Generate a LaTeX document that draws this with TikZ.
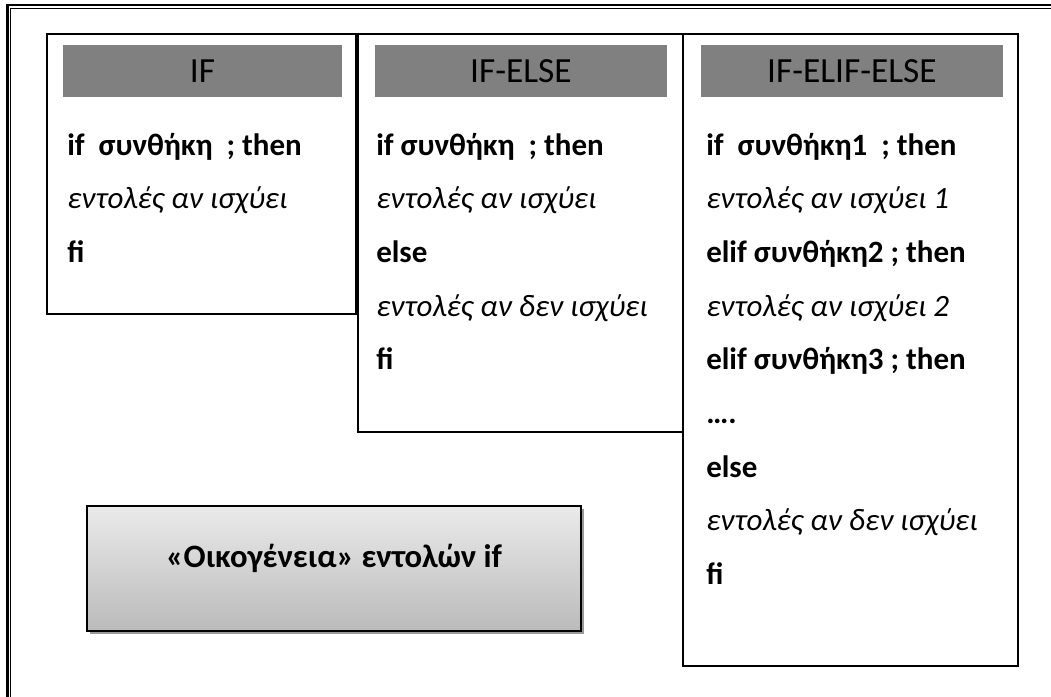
\documentclass[tikz,border=0pt]{standalone}
\usepackage{fontspec}
\setmainfont{Carlito}
\begin{document}
\begin{tikzpicture}[x=0.75pt,y=-0.75pt,
  panel/.style={draw=black,line width=1.5pt},
  headbar/.style={fill=black!50,draw=none},
  headtext/.style={font=\fontsize{26.5pt}{30pt}\selectfont,text=black,inner sep=0pt},
  codeline/.style={anchor=base west,inner sep=0pt,font=\fontsize{23.25pt}{28pt}\selectfont\bfseries},
  textline/.style={anchor=base west,inner sep=0pt,font=\fontsize{23.25pt}{28pt}\selectfont\itshape},
  famtext/.style={inner sep=0pt,anchor=base,font=\fontsize{24.5pt}{28pt}\selectfont\bfseries}]
\useasboundingbox (0,0) rectangle (1051,697);
\begin{scope}
\clip (0,0) rectangle (1051,697);
% page frame: thick outer rule with a thin inner rule
\draw[line width=2pt] (7.5,5) rectangle (1070,720);
\draw[line width=0.9pt] (10.8,8.6) rectangle (1066,716);
\end{scope}

% ---- IF panel ----
\draw[panel] (47,34) rectangle (356,314);
\fill[headbar] (63,45) rectangle (342,97);
\node[headtext] (h1) at (202.5,71) {IF};
\node[codeline] (a1) at (67,155) {if\ \ συνθήκη\ \ ; then};
\node[textline] (a2) at (67,208.7) {εντολές αν ισχύει};
\node[codeline] (a3) at (67,262.4) {fi};

% ---- IF-ELSE panel ----
\draw[panel] (358,34) rectangle (683,432);
\fill[headbar] (375,45) rectangle (667,97);
\node[headtext] (h2) at (521,71) {IF-ELSE};
\node[codeline] (b1) at (376,155) {if συνθήκη\ \ ; then};
\node[textline] (b2) at (376,208.7) {εντολές αν ισχύει};
\node[codeline] (b3) at (376,262.4) {else};
\node[textline] (b4) at (376,316.1) {εντολές αν δεν ισχύει};
\node[codeline] (b5) at (376,369.8) {fi};

% ---- IF-ELIF-ELSE panel ----
\draw[panel] (683,34) rectangle (1018,666);
\fill[headbar] (701,45) rectangle (1003,97);
\node[headtext] (h3) at (852,71) {IF-ELIF-ELSE};
\node[codeline] (c1) at (706,155) {if\ \ συνθήκη1\ \ ; then};
\node[textline] (c2) at (706,208.7) {εντολές αν ισχύει 1};
\node[codeline] (c3) at (706,262.4) {elif συνθήκη2 ; then};
\node[textline] (c4) at (706,316.1) {εντολές αν ισχύει 2};
\node[codeline] (c5) at (706,369.8) {elif συνθήκη3 ; then};
\node[codeline] (c6) at (706,423.5) {….};
\node[codeline] (c7) at (706,477.2) {else};
\node[textline] (c8) at (706,530.9) {εντολές αν δεν ισχύει};
\node[codeline] (c9) at (706,584.6) {fi};

% ---- title box with shadow and gradient ----
\fill[black!40] (90,509) rectangle (584,634);
\shade[top color=black!8,bottom color=black!27,draw=black,line width=1.5pt] (87,506) rectangle (581,631);
\node[famtext] (fam) at (334,567) {«Οικογένεια» εντολών if};
\end{tikzpicture}
\end{document}
